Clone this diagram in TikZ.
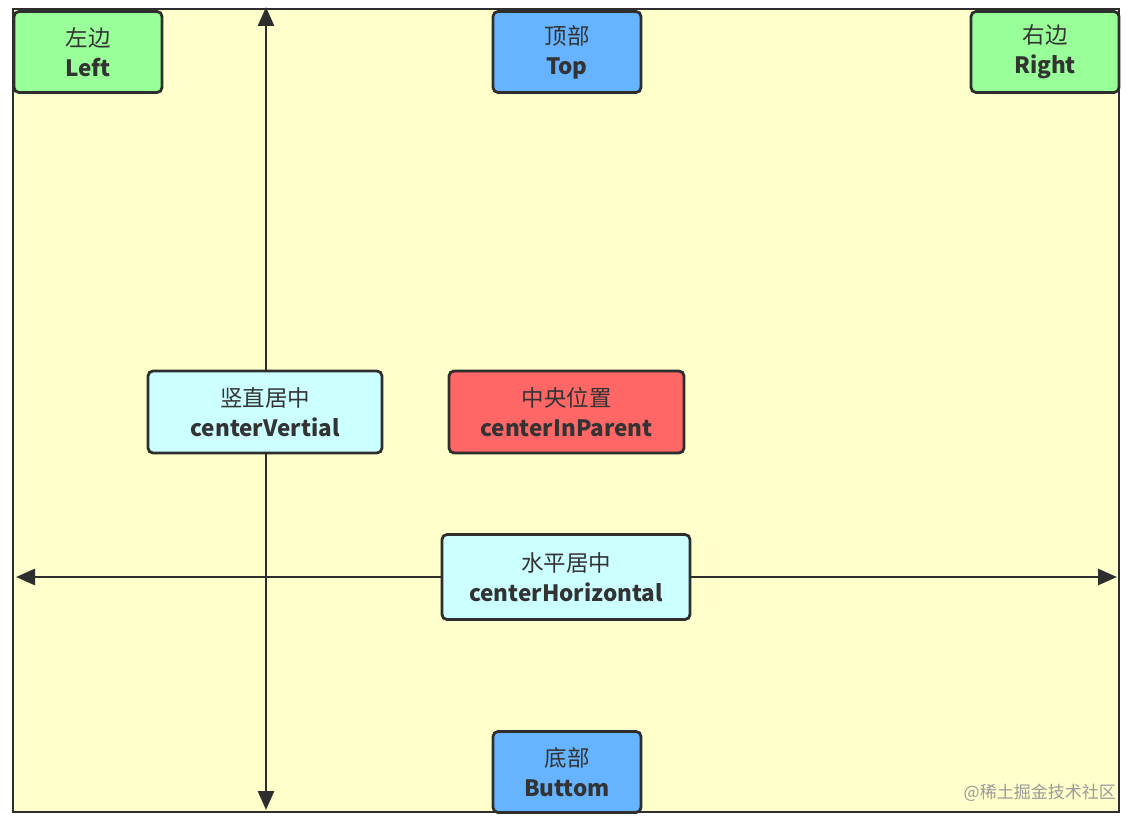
\documentclass[tikz,border=0pt]{standalone}
\usepackage{fontspec}
\setmainfont{Noto Sans CJK SC}
\usetikzlibrary{arrows.meta,positioning}
\definecolor{paper}{HTML}{FFFFCC}
\definecolor{boxline}{HTML}{2E2E2E}
\definecolor{textgray}{HTML}{333333}
\definecolor{greenbox}{HTML}{99FF99}
\definecolor{bluebox}{HTML}{66B3FF}
\definecolor{cyanbox}{HTML}{CCFFFF}
\definecolor{redbox}{HTML}{FF6666}
\definecolor{markgray}{HTML}{9A9A9A}

\begin{document}
\begin{tikzpicture}[x=1pt,y=-1pt]
    \tikzstyle{every node}+=[inner sep=0pt]
    \tikzstyle{posbox}=[draw=boxline, line width=2.8pt, rounded corners=5pt, align=center,
        minimum width=148pt, minimum height=81pt, text=textgray,
        font=\fontsize{22.5}{30}\selectfont]
    \tikzstyle{axis}=[draw=boxline, line width=2.8pt, {Triangle[length=19pt,width=16pt]}-{Triangle[length=19pt,width=16pt]}]
    \useasboundingbox (0,0) rectangle (1140,826);
    % parent area
    \node (parent) [draw=boxline, line width=2.8pt, fill=paper, minimum width=1106pt, minimum height=803pt] at (566,410.5) {};
    % axes behind the boxes
    \coordinate (vtop) at (266,7);
    \coordinate (vbot) at (266,810);
    \coordinate (hleft) at (16,577);
    \coordinate (hright) at (1117,577);
    \draw [axis] (vbot) -- (vtop);
    \draw [axis] (hleft) -- (hright);
    % edge boxes
    \node (left) [posbox, fill=greenbox] at (88,52) {左边\\\textbf{Left}};
    \node (top) [posbox, fill=bluebox] at (567,52) {顶部\\\textbf{Top}};
    \node (right) [posbox, fill=greenbox] at (1045,52) {右边\\\textbf{Right}};
    \node (bottom) [posbox, fill=bluebox] at (567,772) {底部\\\textbf{Buttom}};
    % centre boxes
    \node (vcenter) [posbox, fill=cyanbox, minimum width=234pt, minimum height=82pt] at (265,412) {竖直居中\\\textbf{centerVertial}};
    \node (center) [posbox, fill=redbox, minimum width=235pt, minimum height=82pt] at (566.5,412) {中央位置\\\textbf{centerInParent}};
    \node (hcenter) [posbox, fill=cyanbox, minimum width=248pt, minimum height=85pt] at (566,577) {水平居中\\\textbf{centerHorizontal}};
    % watermark
    \node (mark) [text=markgray, font=\fontsize{17}{20}\selectfont, anchor=east] at (1116,793) {@稀土掘金技术社区};
\end{tikzpicture}
\end{document}
